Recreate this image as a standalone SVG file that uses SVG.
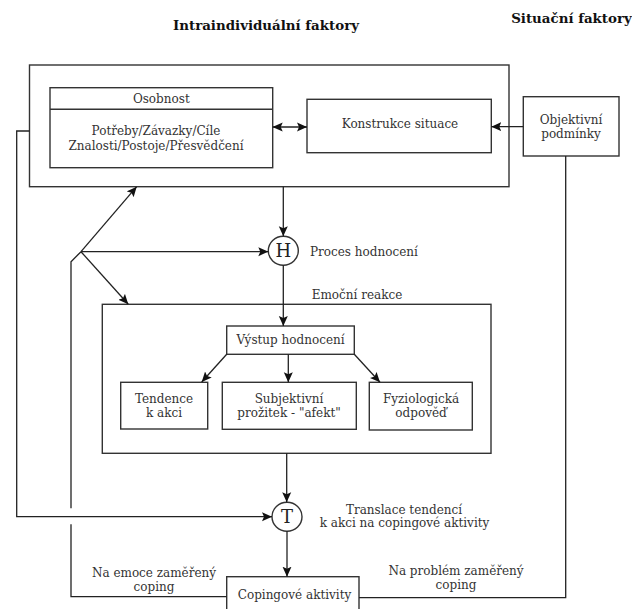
<svg xmlns="http://www.w3.org/2000/svg" width="632" height="609" viewBox="0 0 632 609">
<defs>
<marker id="ah" markerUnits="userSpaceOnUse" markerWidth="10" markerHeight="10" viewBox="0 0 10 10" refX="10" refY="5" orient="auto-start-reverse">
<path d="M0,0.5 L10,5 L0,9.5 L2,5 z" fill="#111"/>
</marker>
</defs>
<style>
rect,ellipse{fill:none;stroke:#333;stroke-width:1.4}
.c path,.c line,.c polyline{fill:none;stroke:#222;stroke-width:1.3}
.a{marker-end:url(#ah)}
text{font-family:"DejaVu Serif","Liberation Serif",serif;font-size:12px;fill:#333;text-anchor:middle}
.t{font-weight:bold;font-size:13.4px;fill:#111}
.s{text-anchor:start}
.L{font-size:18px;fill:#222}
</style>
<rect x="0" y="0" width="632" height="609" style="fill:#fff;stroke:none"/>
<text class="t" x="266" y="29.5">Intraindividuální faktory</text>
<text class="t" x="571.5" y="23">Situační faktory</text>

<g id="intra">
<rect x="29.5" y="65" width="479.5" height="121.7"/>
</g>
<g id="osobnost">
<rect x="50" y="87.7" width="222.7" height="80"/>
<line x1="50" y1="109.3" x2="272.7" y2="109.3" style="stroke:#333;stroke-width:1.4"/>
<text x="161.3" y="102.5">Osobnost</text>
<text x="156" y="135">Potřeby/Závazky/Cíle</text>
<text x="156" y="149.5">Znalosti/Postoje/Přesvědčení</text>
</g>
<g id="konstrukce">
<rect x="307" y="99.3" width="184.3" height="53.4"/>
<text x="400" y="128">Konstrukce situace</text>
</g>
<g id="objektivni">
<rect x="523.3" y="96.7" width="95.7" height="59.3"/>
<text x="571" y="124">Objektivní</text>
<text x="571" y="138">podmínky</text>
</g>
<g id="H">
<ellipse cx="283.3" cy="250.7" rx="15" ry="14.5"/>
<text class="L" x="283.3" y="257">H</text>
<text class="s" x="310" y="256">Proces hodnocení</text>
</g>
<g id="emocni">
<rect x="102.3" y="304.3" width="388.7" height="149"/>
<text class="s" x="311.7" y="299">Emoční reakce</text>
</g>
<g id="vystup">
<rect x="226.7" y="326" width="127.6" height="28.3"/>
<text x="290.5" y="344">Výstup hodnocení</text>
</g>
<g id="tendence">
<rect x="120.7" y="382.3" width="87" height="46.7"/>
<text x="164" y="402.5">Tendence</text>
<text x="164" y="416.5">k akci</text>
</g>
<g id="subjektivni">
<rect x="222.3" y="382.3" width="134" height="47"/>
<text x="289" y="402.5">Subjektivní</text>
<text x="289" y="416.5">prožitek - "afekt"</text>
</g>
<g id="fyziologicka">
<rect x="369.3" y="382.3" width="103" height="47.7"/>
<text x="421" y="402.5">Fyziologická</text>
<text x="421" y="416.5">odpověď</text>
</g>
<g id="T">
<ellipse cx="287" cy="516.7" rx="15" ry="14.5"/>
<text class="L" x="287" y="523">T</text>
<text x="404" y="513.5">Translace tendencí</text>
<text x="404.5" y="527">k akci na copingové aktivity</text>
</g>
<g id="coping">
<rect x="226.7" y="576.7" width="132.3" height="40"/>
<text x="294.5" y="598.5">Copingové aktivity</text>
</g>

<g id="connectors" class="c">
<line x1="272.7" y1="127" x2="307" y2="127" class="a" style="marker-start:url(#ah)"/>
<line x1="523.3" y1="126.7" x2="491.3" y2="126.7" class="a"/>
<line x1="283.3" y1="186.7" x2="283.3" y2="236.2" class="a"/>
<line x1="283.3" y1="265.2" x2="283.3" y2="326" class="a"/>
<polyline points="29.5,131 16.7,131 16.7,516.7 272,516.7" class="a"/>
<polyline points="226.7,596.7 71,596.7 71,524.3"/>
<polyline points="71,508.3 71,261.7 81,251.7"/>
<line x1="81" y1="251.7" x2="136.7" y2="186.7" class="a"/>
<line x1="81" y1="251.7" x2="268.3" y2="251.7" class="a"/>
<line x1="81" y1="251.7" x2="128.3" y2="304.3" class="a"/>
<line x1="226.7" y1="354.3" x2="201.7" y2="382" class="a"/>
<line x1="288.3" y1="354.3" x2="288.3" y2="382.3" class="a"/>
<line x1="354.3" y1="354.3" x2="380" y2="382.3" class="a"/>
<line x1="286.7" y1="453.3" x2="286.7" y2="502.2" class="a"/>
<line x1="287" y1="531.2" x2="287" y2="576.7" class="a"/>
<polyline points="565.7,156 565.7,597.7 359,597.7"/>
</g>
<text x="154" y="577">Na emoce zaměřený</text>
<text x="154" y="591">coping</text>
<text x="456" y="575">Na problém zaměřený</text>
<text x="456" y="588.5">coping</text>
</svg>
